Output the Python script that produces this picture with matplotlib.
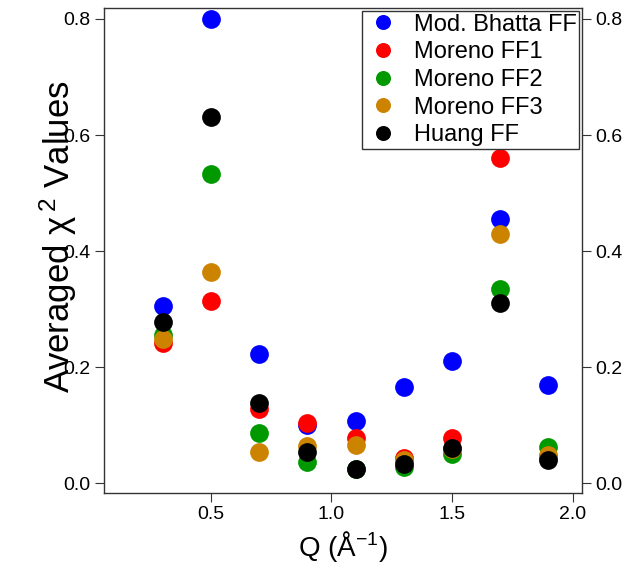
import matplotlib
matplotlib.use('Agg')
import matplotlib.pyplot as plt

plt.rcParams['font.family'] = ['Liberation Sans', 'DejaVu Sans']
plt.rcParams['mathtext.fontset'] = 'custom'
plt.rcParams['mathtext.rm'] = 'Liberation Sans'
plt.rcParams['mathtext.it'] = 'Liberation Sans'

# Q values (1/Angstrom)
q = [0.3, 0.5, 0.7, 0.9, 1.1, 1.3, 1.5, 1.7, 1.9]

# averaged chi^2 per form factor
bhatta = [0.306, 0.800, 0.222, 0.100, 0.107, 0.166, 0.210, 0.455, 0.170]
moreno1 = [0.242, 0.314, 0.127, 0.103, 0.077, 0.044, 0.077, 0.560, 0.045]
moreno2 = [0.255, 0.533, 0.087, 0.037, 0.025, 0.028, 0.051, 0.334, 0.063]
moreno3 = [0.248, 0.364, 0.053, 0.064, 0.066, 0.040, 0.058, 0.430, 0.048]
huang = [0.277, 0.631, 0.138, 0.054, 0.025, 0.033, 0.060, 0.311, 0.040]

series = [
    ('Mod. Bhatta FF', bhatta, '#0000ff'),
    ('Moreno FF1', moreno1, '#ff0000'),
    ('Moreno FF2', moreno2, '#009900'),
    ('Moreno FF3', moreno3, '#cc8400'),
    ('Huang FF', huang, '#000000'),
]

fig = plt.figure(figsize=(6.26, 5.67), dpi=100)
ax = fig.add_axes([0.166, 0.1305, 0.764, 0.8555])

for label, vals, col in series:
    ax.plot(q, vals, 'o', color=col, markersize=13.5, markeredgewidth=0, label=label)

ax.set_xlim(0.056, 2.04)
ax.set_ylim(-0.017, 0.819)
ax.set_xticks([0.5, 1.0, 1.5, 2.0])
ax.set_yticks([0.0, 0.2, 0.4, 0.6, 0.8])
ax.set_yticklabels(['0.0', '0.2', '0.4', '0.6', '0.8'])

for sp in ax.spines.values():
    sp.set_color('#333333')
    sp.set_linewidth(1.0)

ax.tick_params(direction='out', length=6.5, width=0.8, color='#333333',
               labelsize=14, pad=3)
ax.tick_params(axis='y', right=True, labelright=True)

ax.set_xlabel(r'Q (Å$^{-1}$)', fontsize=20, labelpad=4)
ax.set_ylabel(r'Averaged $\chi^{\,2}$ Values', fontsize=25)
ax.yaxis.set_label_coords(-0.052, 0.528)

leg = ax.legend(loc='upper right', fontsize=17, frameon=True, fancybox=False,
                edgecolor='#333333', framealpha=1, borderpad=0.12,
                labelspacing=0.24, handletextpad=0.55, handlelength=1.5,
                markerscale=0.8, borderaxespad=0.12)
leg.get_frame().set_linewidth(1.0)

fig.savefig('out.png', dpi=100)
